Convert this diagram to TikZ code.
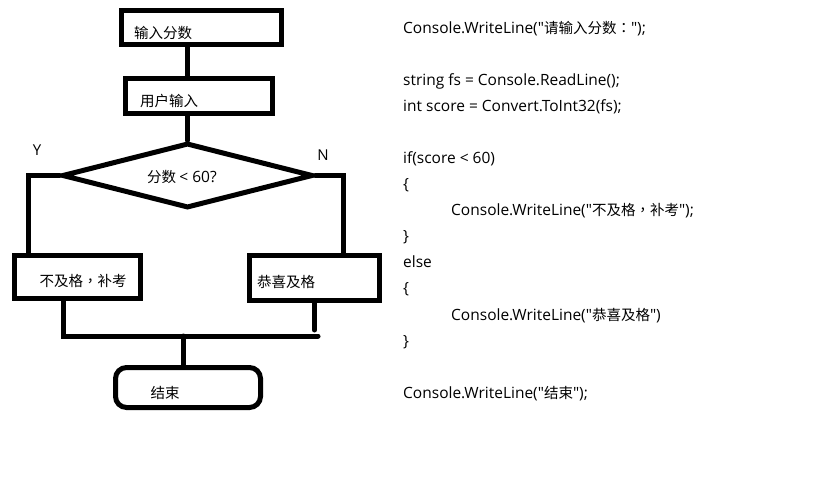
\documentclass[tikz,border=0pt]{standalone}
\usepackage{fontspec}
\newfontfamily\latin{Open Sans}
\newfontfamily\zh{Noto Sans CJK SC}
\newfontfamily\zhtc{Noto Sans CJK TC} % centred full-width punctuation
\usepackage{tikz}
\usetikzlibrary{
  calc,
  positioning,
  shapes.geometric, % for the diamond
}

\tikzset{
  flow/.style = {draw, line width=5pt, inner sep=0pt},
  boxtext/.style = {font=\fontsize{14.5}{16}\selectfont\zh, inner sep=0pt},
  codeline/.style = {anchor=base west, inner sep=0pt, font=\fontsize{15.5}{17}\selectfont\latin},
  wire/.style = {line width=5pt, line cap=round},
}
\newcommand{\hz}[1]{{\fontsize{14.5}{16}\selectfont\zh #1}}
\newcommand{\pu}[1]{{\zhtc #1}}

\begin{document}
\begin{tikzpicture}[x=1pt, y=-1pt]
              \useasboundingbox (0,0) rectangle (821,502);
              % flow chart
              \node [flow, minimum width=160pt, minimum height=34pt] (ask) at (201.5,27.5) {};
              \node [boxtext] (asktext) at (163,33) {输入分数};
              \node [flow, minimum width=147pt, minimum height=35pt] (read) at (199,96) {};
              \node [boxtext] (readtext) at (169,101) {用户输入};
              \node [flow, diamond, minimum width=251pt, minimum height=65pt] (test) at (187.5,175.5) {};
              \node [boxtext] (testtext) at (182,177) {分数 {\latin\fontsize{15.5}{17}\selectfont < 60?}};
              \node [flow, minimum width=126pt, minimum height=43pt] (fail) at (77.5,277) {};
              \node [boxtext] (failtext) at (83,281) {不及格\pu{，}补考};
              \node [flow, minimum width=130pt, minimum height=45pt] (pass) at (314.5,278) {};
              \node [boxtext] (passtext) at (286,282) {恭喜及格};
              \node [flow, rounded corners=11pt, minimum width=145pt, minimum height=40pt] (done) at (188,387.5) {};
              \node [boxtext] (donetext) at (165,393) {结束};
              \node [boxtext, font=\fontsize{15}{17}\selectfont\latin] (yes) at (37,150) {Y};
              \node [boxtext, font=\fontsize{15}{17}\selectfont\latin] (no) at (323,155) {N};
              \coordinate (yturn) at (28,175.5);
              \coordinate (nturn) at (343,175.5);
              \coordinate (joinl) at (63,336);
              \coordinate (joinr) at (318,336);
              \coordinate (joinm) at (183,336);
              \draw [wire] (ask.south -| test.north) -- (read.north -| test.north);
              \draw [wire] (read.south -| test.north) -- (test.north);
              \draw [wire] (test.west) -- (yturn) -- (yturn |- fail.north);
              \draw [wire] (test.east) -- (nturn) -- (nturn |- pass.north);
              \draw [wire] (fail.south -| joinl) -- (joinl) -- (joinr);
              \draw [wire] (pass.south) -- ++(0,27);
              \draw [wire] (joinm) -- (done.north -| joinm);
              % code
              \node [codeline] (c1) at (403,34) {Console.WriteLine("\hz{请输入分数\pu{：}}");};
              \node [codeline] (c2) at (403,86) {string fs = Console.ReadLine();};
              \node [codeline] (c3) at (403,112) {int score = Convert.ToInt32(fs);};
              \node [codeline] (c4) at (403,164) {if(score < 60)};
              \node [codeline] (c5) at (403,190) {\{};
              \node [codeline] (c6) at (451,216) {Console.WriteLine("\hz{不及格\pu{，}补考}");};
              \node [codeline] (c7) at (403,242) {\}};
              \node [codeline] (c8) at (403,268) {else};
              \node [codeline] (c9) at (403,294) {\{};
              \node [codeline] (c10) at (451,320) {Console.WriteLine("\hz{恭喜及格}")};
              \node [codeline] (c11) at (403,346) {\}};
              \node [codeline] (c12) at (403,398) {Console.WriteLine("\hz{结束}");};
            \end{tikzpicture}
\end{document}
